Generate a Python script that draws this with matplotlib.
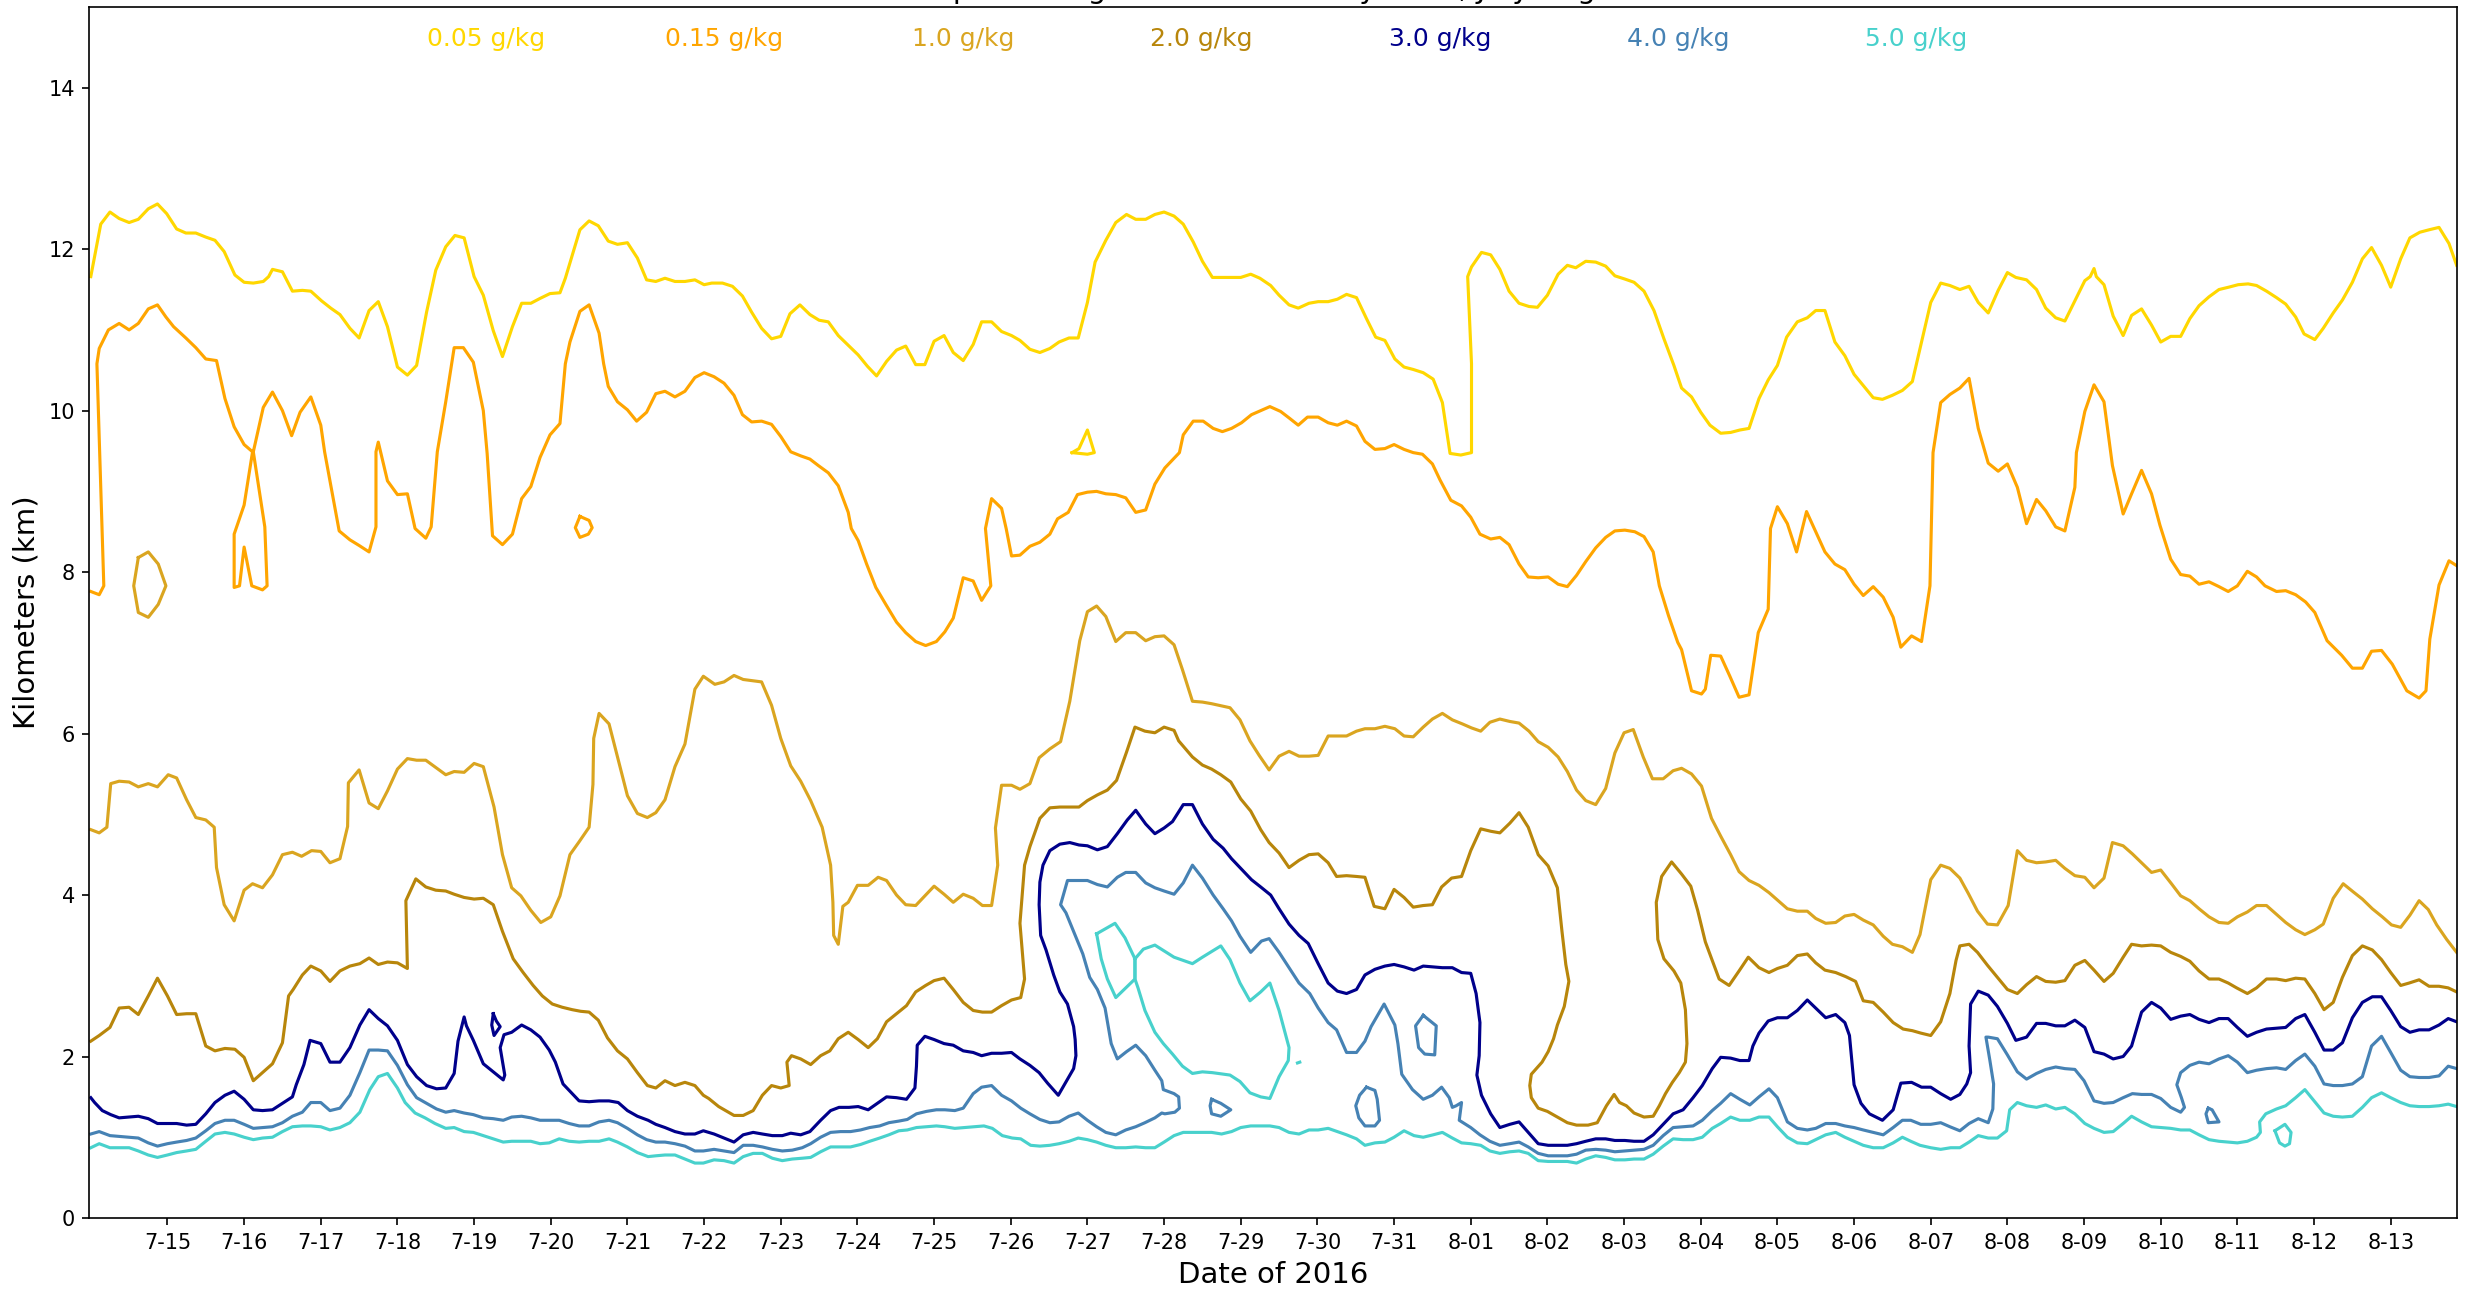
import matplotlib
matplotlib.use("Agg")
import matplotlib.pyplot as plt

# ---------------- data (day offset from 2016-07-14 00:00, height in km) ----------------
level_labels = ["0.05 g/kg", "0.15 g/kg", "1.0 g/kg", "2.0 g/kg", "3.0 g/kg", "4.0 g/kg", "5.0 g/kg"]
level_colors = ["gold", "orange", "goldenrod", "darkgoldenrod", "darkblue", "steelblue", "mediumturquoise"]

tick_days = list(range(1, 31))
tick_labels = ["7-%02d" % d for d in range(15, 32)] + ["8-%02d" % d for d in range(1, 14)]

title_text = "Water Vapor Mixing Ratio Contours by Lidar, July-August 2016"

c005_main = [
    (0.00, 11.66), (0.13, 12.31), (0.25, 12.46), (0.37, 12.38), (0.50, 12.33), (0.62, 12.37), (0.75, 12.50),
    (0.87, 12.56), (0.99, 12.44), (1.12, 12.25), (1.24, 12.20), (1.37, 12.20), (1.50, 12.15), (1.62, 12.11),
    (1.74, 11.97), (1.88, 11.68), (2.00, 11.59), (2.12, 11.58), (2.25, 11.60), (2.32, 11.66), (2.37, 11.75),
    (2.50, 11.72), (2.63, 11.48), (2.76, 11.49), (2.87, 11.48), (3.01, 11.36), (3.13, 11.27), (3.25, 11.19),
    (3.38, 11.02), (3.50, 10.90), (3.63, 11.24), (3.75, 11.35), (3.87, 11.04), (4.00, 10.54), (4.13, 10.44),
    (4.25, 10.56), (4.38, 11.22), (4.50, 11.74), (4.63, 12.03), (4.75, 12.17), (4.87, 12.14), (5.00, 11.66),
    (5.12, 11.43), (5.25, 10.99), (5.37, 10.67), (5.50, 11.04), (5.62, 11.33), (5.74, 11.33), (5.86, 11.39),
    (5.99, 11.45), (6.12, 11.46), (6.19, 11.64), (6.38, 12.24), (6.50, 12.35), (6.62, 12.29), (6.75, 12.10),
    (6.87, 12.06), (7.00, 12.08), (7.13, 11.89), (7.25, 11.62), (7.37, 11.60), (7.49, 11.64), (7.62, 11.60),
    (7.75, 11.60), (7.88, 11.62), (8.00, 11.56), (8.10, 11.58), (8.24, 11.58), (8.37, 11.54), (8.50, 11.42),
    (8.62, 11.22), (8.75, 11.02), (8.88, 10.89), (9.00, 10.92), (9.12, 11.20), (9.25, 11.31), (9.38, 11.19),
    (9.50, 11.12), (9.62, 11.10), (9.75, 10.93), (9.88, 10.81), (10.01, 10.69), (10.13, 10.55), (10.25, 10.43),
    (10.38, 10.61), (10.51, 10.75), (10.63, 10.80), (10.76, 10.57), (10.88, 10.57), (11.00, 10.86), (11.13, 10.93),
    (11.25, 10.72), (11.38, 10.62), (11.51, 10.82), (11.62, 11.10), (11.75, 11.10), (11.88, 10.98), (12.01, 10.93),
    (12.12, 10.87), (12.25, 10.76), (12.38, 10.72), (12.51, 10.77), (12.63, 10.85), (12.76, 10.90), (12.88, 10.90),
    (13.00, 11.34), (13.10, 11.84), (13.24, 12.11), (13.37, 12.33), (13.51, 12.43), (13.63, 12.37), (13.76, 12.37),
    (13.88, 12.43), (14.00, 12.46), (14.13, 12.41), (14.25, 12.31), (14.38, 12.09), (14.50, 11.85), (14.63, 11.65),
    (14.75, 11.65), (14.87, 11.65), (15.00, 11.65), (15.13, 11.69), (15.25, 11.64), (15.39, 11.55), (15.50, 11.43),
    (15.63, 11.31), (15.75, 11.27), (15.89, 11.33), (16.01, 11.35), (16.14, 11.35), (16.26, 11.38), (16.38, 11.44),
    (16.51, 11.40), (16.64, 11.14), (16.76, 10.91), (16.88, 10.87), (17.01, 10.64), (17.13, 10.54), (17.25, 10.51),
    (17.38, 10.47), (17.51, 10.39), (17.63, 10.10), (17.73, 9.47), (17.87, 9.45), (18.01, 9.48), (18.01, 10.58),
    (17.96, 11.66), (18.01, 11.78), (18.14, 11.96), (18.26, 11.93), (18.38, 11.75), (18.50, 11.48), (18.63, 11.33),
    (18.76, 11.29), (18.87, 11.28), (19.00, 11.43), (19.14, 11.69), (19.26, 11.80), (19.37, 11.77), (19.50, 11.85),
    (19.63, 11.84), (19.76, 11.79), (19.88, 11.67), (20.01, 11.63), (20.13, 11.59), (20.26, 11.48), (20.39, 11.24),
    (20.52, 10.89), (20.65, 10.56), (20.75, 10.28), (20.88, 10.17), (21.00, 9.98), (21.12, 9.82), (21.26, 9.72),
    (21.39, 9.73), (21.51, 9.76), (21.63, 9.78), (21.76, 10.15), (21.88, 10.38), (22.00, 10.56), (22.12, 10.91),
    (22.26, 11.10), (22.39, 11.15), (22.50, 11.24), (22.62, 11.24), (22.75, 10.85), (22.88, 10.68), (23.00, 10.45),
    (23.12, 10.31), (23.25, 10.16), (23.37, 10.14), (23.50, 10.19), (23.63, 10.25), (23.76, 10.36), (23.88, 10.85),
    (24.00, 11.34), (24.13, 11.58), (24.25, 11.55), (24.38, 11.50), (24.50, 11.54), (24.62, 11.34), (24.75, 11.21),
    (24.88, 11.49), (25.00, 11.71), (25.11, 11.65), (25.25, 11.62), (25.38, 11.50), (25.50, 11.27), (25.63, 11.15),
    (25.75, 11.11), (25.88, 11.36), (26.01, 11.61), (26.08, 11.66), (26.13, 11.76), (26.16, 11.66), (26.26, 11.56),
    (26.38, 11.17), (26.51, 10.93), (26.62, 11.18), (26.75, 11.26), (26.88, 11.06), (27.00, 10.85), (27.13, 10.92),
    (27.26, 10.92), (27.38, 11.14), (27.50, 11.30), (27.63, 11.41), (27.76, 11.50), (27.89, 11.53), (28.01, 11.56),
    (28.14, 11.57), (28.25, 11.55), (28.38, 11.48), (28.51, 11.40), (28.63, 11.32), (28.76, 11.16), (28.87, 10.95),
    (29.01, 10.88), (29.12, 11.02), (29.25, 11.21), (29.37, 11.37), (29.50, 11.59), (29.63, 11.88), (29.75, 12.02),
    (29.88, 11.80), (30.00, 11.53), (30.13, 11.88), (30.25, 12.14), (30.38, 12.21), (30.50, 12.24), (30.63, 12.27),
    (30.76, 12.07), (30.86, 11.80),
]
c005_island = [(12.80, 9.48), (12.89, 9.53), (13.00, 9.76), (13.09, 9.48), (13.00, 9.46), (12.80, 9.48)]

c015_main = [
    (0.00, 7.76), (0.11, 7.72), (0.17, 7.83), (0.08, 10.58), (0.11, 10.77), (0.23, 11.00), (0.37, 11.08),
    (0.50, 11.00), (0.62, 11.08), (0.75, 11.26), (0.87, 11.31), (0.98, 11.16), (1.08, 11.04), (1.24, 10.90),
    (1.37, 10.78), (1.50, 10.64), (1.64, 10.62), (1.75, 10.15), (1.87, 9.80), (2.00, 9.58), (2.11, 9.49),
    (2.00, 8.83), (1.87, 8.47), (1.87, 7.81), (1.94, 7.83), (2.00, 8.31), (2.10, 7.83), (2.24, 7.78),
    (2.30, 7.83), (2.27, 8.56), (2.12, 9.49), (2.25, 10.04), (2.37, 10.23), (2.50, 10.00), (2.62, 9.69),
    (2.73, 9.98), (2.87, 10.17), (3.00, 9.82), (3.05, 9.49), (3.12, 9.13), (3.24, 8.51), (3.38, 8.40),
    (3.50, 8.33), (3.63, 8.25), (3.72, 8.56), (3.72, 9.49), (3.75, 9.61), (3.87, 9.13), (4.00, 8.96),
    (4.13, 8.97), (4.23, 8.54), (4.37, 8.42), (4.44, 8.56), (4.52, 9.49), (4.63, 10.11), (4.74, 10.78),
    (4.86, 10.78), (4.99, 10.60), (5.12, 10.00), (5.17, 9.47), (5.24, 8.45), (5.37, 8.34), (5.50, 8.47),
    (5.62, 8.91), (5.74, 9.06), (5.86, 9.42), (5.99, 9.70), (6.12, 9.84), (6.19, 10.58), (6.25, 10.85),
    (6.38, 11.23), (6.50, 11.31), (6.63, 10.96), (6.69, 10.58), (6.75, 10.30), (6.87, 10.11), (7.00, 10.01),
    (7.12, 9.87), (7.25, 9.98), (7.37, 10.21), (7.49, 10.24), (7.62, 10.17), (7.75, 10.24), (7.88, 10.41),
    (8.00, 10.47), (8.13, 10.42), (8.26, 10.34), (8.39, 10.19), (8.50, 9.95), (8.62, 9.86), (8.75, 9.87),
    (8.88, 9.83), (9.00, 9.68), (9.13, 9.49), (9.26, 9.44), (9.38, 9.40), (9.49, 9.32), (9.62, 9.23),
    (9.75, 9.07), (9.88, 8.74), (9.92, 8.54), (10.01, 8.39), (10.12, 8.10), (10.24, 7.81), (10.37, 7.60),
    (10.51, 7.38), (10.63, 7.25), (10.76, 7.14), (10.89, 7.09), (11.03, 7.14), (11.14, 7.26), (11.25, 7.43),
    (11.38, 7.93), (11.51, 7.89), (11.62, 7.65), (11.74, 7.83), (11.67, 8.54), (11.75, 8.91), (11.88, 8.79),
    (11.94, 8.54), (12.01, 8.20), (12.12, 8.21), (12.25, 8.32), (12.38, 8.37), (12.51, 8.47), (12.61, 8.66),
    (12.75, 8.74), (12.87, 8.96), (13.00, 8.99), (13.12, 9.00), (13.24, 8.97), (13.37, 8.96), (13.50, 8.92),
    (13.63, 8.74), (13.76, 8.77), (13.88, 9.09), (14.01, 9.29), (14.20, 9.48), (14.25, 9.70), (14.38, 9.87),
    (14.51, 9.87), (14.64, 9.78), (14.76, 9.74), (14.88, 9.78), (15.01, 9.85), (15.14, 9.95), (15.26, 10.00),
    (15.38, 10.05), (15.52, 9.99), (15.63, 9.91), (15.75, 9.82), (15.87, 9.92), (16.01, 9.92), (16.14, 9.85),
    (16.26, 9.82), (16.38, 9.87), (16.51, 9.81), (16.62, 9.62), (16.75, 9.52), (16.88, 9.53), (17.00, 9.58),
    (17.13, 9.52), (17.25, 9.48), (17.37, 9.46), (17.50, 9.34), (17.60, 9.14), (17.74, 8.89), (17.88, 8.82),
    (18.00, 8.68), (18.12, 8.47), (18.26, 8.41), (18.38, 8.43), (18.50, 8.34), (18.63, 8.10), (18.75, 7.94),
    (18.88, 7.93), (19.01, 7.94), (19.14, 7.85), (19.26, 7.82), (19.38, 7.96), (19.50, 8.13), (19.63, 8.30),
    (19.76, 8.43), (19.88, 8.51), (20.01, 8.52), (20.14, 8.50), (20.26, 8.44), (20.38, 8.25), (20.46, 7.83),
    (20.58, 7.46), (20.70, 7.13), (20.75, 7.04), (20.88, 6.53), (21.01, 6.49), (21.06, 6.55), (21.13, 6.97),
    (21.26, 6.96), (21.38, 6.71), (21.50, 6.45), (21.63, 6.48), (21.75, 7.25), (21.88, 7.54), (21.91, 8.54),
    (22.00, 8.81), (22.13, 8.60), (22.25, 8.25), (22.33, 8.56), (22.38, 8.75), (22.50, 8.50), (22.62, 8.25),
    (22.75, 8.10), (22.88, 8.03), (23.00, 7.85), (23.12, 7.71), (23.25, 7.82), (23.38, 7.69), (23.51, 7.44),
    (23.61, 7.07), (23.75, 7.21), (23.88, 7.14), (23.99, 7.83), (24.03, 9.48), (24.13, 10.10), (24.25, 10.20),
    (24.38, 10.28), (24.50, 10.40), (24.62, 9.78), (24.75, 9.35), (24.88, 9.25), (25.00, 9.34), (25.13, 9.05),
    (25.25, 8.60), (25.38, 8.90), (25.50, 8.76), (25.63, 8.56), (25.75, 8.51), (25.88, 9.05), (25.90, 9.48),
    (26.01, 9.99), (26.13, 10.32), (26.26, 10.11), (26.37, 9.32), (26.51, 8.72), (26.62, 8.97), (26.75, 9.26),
    (26.88, 8.97), (26.99, 8.58), (27.13, 8.16), (27.26, 7.97), (27.38, 7.95), (27.50, 7.85), (27.63, 7.88),
    (27.76, 7.82), (27.88, 7.76), (28.00, 7.83), (28.13, 8.01), (28.25, 7.94), (28.36, 7.83), (28.51, 7.76),
    (28.63, 7.77), (28.76, 7.72), (28.89, 7.63), (29.01, 7.50), (29.17, 7.15), (29.36, 6.97), (29.50, 6.81),
    (29.63, 6.81), (29.75, 7.02), (29.88, 7.03), (30.02, 6.86), (30.21, 6.53), (30.37, 6.44), (30.46, 6.53),
    (30.51, 7.17), (30.63, 7.84), (30.76, 8.14), (30.86, 8.08),
]
c015_loop = [(6.38, 8.69), (6.50, 8.64), (6.54, 8.55), (6.49, 8.47), (6.38, 8.43), (6.32, 8.55), (6.38, 8.69)]

c10_main = [
    (0.00, 4.81), (0.11, 4.77), (0.21, 4.84), (0.26, 5.38), (0.37, 5.41), (0.50, 5.40), (0.62, 5.34),
    (0.75, 5.38), (0.87, 5.34), (1.01, 5.49), (1.12, 5.45), (1.25, 5.18), (1.37, 4.96), (1.50, 4.93),
    (1.61, 4.84), (1.64, 4.34), (1.74, 3.88), (1.87, 3.68), (2.00, 4.06), (2.11, 4.14), (2.24, 4.09),
    (2.37, 4.25), (2.50, 4.50), (2.63, 4.53), (2.75, 4.48), (2.88, 4.55), (3.00, 4.54), (3.12, 4.40),
    (3.25, 4.45), (3.35, 4.85), (3.36, 5.39), (3.50, 5.55), (3.63, 5.14), (3.75, 5.07), (3.87, 5.29),
    (4.00, 5.56), (4.13, 5.69), (4.25, 5.67), (4.37, 5.67), (4.50, 5.58), (4.63, 5.49), (4.74, 5.53),
    (4.87, 5.52), (5.00, 5.63), (5.12, 5.59), (5.26, 5.09), (5.37, 4.50), (5.49, 4.09), (5.61, 3.99),
    (5.74, 3.81), (5.87, 3.66), (6.00, 3.73), (6.12, 3.99), (6.25, 4.50), (6.37, 4.66), (6.50, 4.84),
    (6.55, 5.37), (6.56, 5.94), (6.63, 6.25), (6.76, 6.12), (6.87, 5.71), (7.00, 5.23), (7.13, 5.01),
    (7.26, 4.96), (7.37, 5.02), (7.49, 5.18), (7.62, 5.59), (7.75, 5.87), (7.88, 6.55), (7.99, 6.71),
    (8.14, 6.61), (8.26, 6.64), (8.39, 6.72), (8.51, 6.67), (8.75, 6.64), (8.88, 6.35), (9.00, 5.94),
    (9.13, 5.60), (9.26, 5.41), (9.39, 5.17), (9.54, 4.84), (9.65, 4.37), (9.68, 3.91), (9.69, 3.50),
    (9.75, 3.39), (9.81, 3.86), (9.88, 3.91), (10.00, 4.12), (10.14, 4.12), (10.27, 4.22), (10.38, 4.18),
    (10.51, 4.00), (10.63, 3.88), (10.76, 3.87), (10.88, 3.99), (11.00, 4.11), (11.13, 4.01), (11.25, 3.91),
    (11.38, 4.01), (11.51, 3.96), (11.63, 3.87), (11.75, 3.87), (11.83, 4.37), (11.80, 4.83), (11.88, 5.36),
    (12.01, 5.36), (12.12, 5.31), (12.25, 5.38), (12.37, 5.70), (12.51, 5.81), (12.65, 5.90), (12.77, 6.40),
    (12.90, 7.15), (13.00, 7.51), (13.12, 7.58), (13.24, 7.45), (13.37, 7.14), (13.50, 7.25), (13.63, 7.25),
    (13.76, 7.15), (13.88, 7.20), (14.00, 7.21), (14.13, 7.10), (14.24, 6.79), (14.37, 6.40), (14.50, 6.39),
    (14.62, 6.37), (14.86, 6.32), (14.99, 6.17), (15.12, 5.91), (15.24, 5.73), (15.37, 5.55), (15.50, 5.72),
    (15.63, 5.78), (15.76, 5.72), (15.89, 5.72), (16.01, 5.73), (16.14, 5.97), (16.38, 5.97), (16.51, 6.03),
    (16.62, 6.06), (16.75, 6.06), (16.88, 6.09), (17.01, 6.06), (17.13, 5.97), (17.25, 5.96), (17.38, 6.08),
    (17.50, 6.18), (17.63, 6.25), (17.76, 6.17), (17.89, 6.12), (18.01, 6.07), (18.13, 6.03), (18.25, 6.14),
    (18.38, 6.18), (18.51, 6.15), (18.63, 6.13), (18.76, 6.03), (18.88, 5.90), (19.01, 5.83), (19.14, 5.71),
    (19.26, 5.53), (19.38, 5.30), (19.50, 5.17), (19.63, 5.12), (19.76, 5.32), (19.88, 5.76), (20.00, 6.01),
    (20.12, 6.05), (20.25, 5.71), (20.37, 5.44), (20.51, 5.44), (20.64, 5.54), (20.75, 5.57), (20.88, 5.50),
    (21.01, 5.35), (21.14, 4.95), (21.26, 4.73), (21.39, 4.50), (21.50, 4.29), (21.63, 4.18), (21.76, 4.12),
    (21.89, 4.03), (22.01, 3.93), (22.13, 3.83), (22.26, 3.80), (22.39, 3.80), (22.50, 3.71), (22.63, 3.65),
    (22.76, 3.66), (22.88, 3.74), (23.00, 3.76), (23.12, 3.69), (23.25, 3.63), (23.38, 3.49), (23.50, 3.39),
    (23.63, 3.36), (23.76, 3.29), (23.86, 3.51), (24.00, 4.19), (24.13, 4.37), (24.25, 4.33), (24.38, 4.21),
    (24.49, 4.02), (24.61, 3.80), (24.74, 3.64), (24.87, 3.63), (25.01, 3.87), (25.13, 4.55), (25.25, 4.43),
    (25.38, 4.40), (25.50, 4.41), (25.63, 4.43), (25.75, 4.33), (25.88, 4.24), (26.01, 4.22), (26.13, 4.09),
    (26.26, 4.21), (26.37, 4.65), (26.51, 4.61), (26.63, 4.51), (26.75, 4.40), (26.88, 4.28), (27.00, 4.31),
    (27.14, 4.14), (27.26, 3.99), (27.38, 3.93), (27.50, 3.83), (27.63, 3.73), (27.76, 3.66), (27.88, 3.65),
    (28.00, 3.73), (28.13, 3.79), (28.25, 3.87), (28.38, 3.87), (28.51, 3.76), (28.63, 3.66), (28.76, 3.57),
    (28.88, 3.51), (29.01, 3.57), (29.12, 3.64), (29.25, 3.96), (29.38, 4.14), (29.51, 4.04), (29.63, 3.95),
    (29.76, 3.83), (29.89, 3.73), (30.01, 3.63), (30.13, 3.60), (30.25, 3.75), (30.37, 3.93), (30.49, 3.82),
    (30.60, 3.63), (30.73, 3.45), (30.86, 3.29),
]
c10_loop = [(0.62, 8.18), (0.75, 8.25), (0.88, 8.10), (0.98, 7.83), (0.88, 7.60), (0.75, 7.44), (0.62, 7.50),
            (0.56, 7.83), (0.62, 8.18)]

c20_main = [
    (0.00, 2.19), (0.11, 2.26), (0.25, 2.36), (0.37, 2.60), (0.50, 2.61), (0.62, 2.52), (0.75, 2.75),
    (0.87, 2.97), (1.00, 2.75), (1.12, 2.52), (1.25, 2.53), (1.37, 2.53), (1.50, 2.13), (1.62, 2.07),
    (1.75, 2.10), (1.88, 2.09), (2.00, 1.99), (2.12, 1.70), (2.24, 1.80), (2.37, 1.91), (2.50, 2.17),
    (2.58, 2.75), (2.64, 2.83), (2.76, 3.01), (2.87, 3.12), (3.00, 3.06), (3.12, 2.93), (3.25, 3.06),
    (3.38, 3.12), (3.51, 3.15), (3.63, 3.22), (3.75, 3.14), (3.87, 3.17), (4.00, 3.16), (4.13, 3.09),
    (4.11, 3.93), (4.24, 4.20), (4.37, 4.10), (4.50, 4.06), (4.63, 4.05), (4.74, 4.01), (4.87, 3.97),
    (5.00, 3.95), (5.12, 3.96), (5.25, 3.88), (5.37, 3.55), (5.51, 3.21), (5.64, 3.04), (5.77, 2.88),
    (5.89, 2.75), (6.02, 2.65), (6.15, 2.61), (6.28, 2.58), (6.39, 2.56), (6.50, 2.55), (6.62, 2.45),
    (6.74, 2.23), (6.87, 2.07), (7.00, 1.97), (7.13, 1.80), (7.26, 1.64), (7.37, 1.61), (7.49, 1.70),
    (7.62, 1.64), (7.75, 1.68), (7.88, 1.64), (7.99, 1.52), (8.06, 1.48), (8.19, 1.38), (8.39, 1.27),
    (8.51, 1.27), (8.64, 1.33), (8.76, 1.52), (8.88, 1.64), (9.00, 1.61), (9.11, 1.64), (9.08, 1.93),
    (9.14, 2.01), (9.26, 1.97), (9.39, 1.90), (9.52, 2.01), (9.64, 2.07), (9.75, 2.22), (9.88, 2.30),
    (10.01, 2.21), (10.14, 2.11), (10.26, 2.22), (10.38, 2.43), (10.51, 2.53), (10.64, 2.63), (10.76, 2.80),
    (10.89, 2.88), (11.00, 2.94), (11.13, 2.97), (11.25, 2.83), (11.38, 2.67), (11.51, 2.57), (11.63, 2.55),
    (11.75, 2.55), (11.88, 2.63), (12.01, 2.70), (12.13, 2.73), (12.18, 2.96), (12.12, 3.65), (12.18, 4.37),
    (12.25, 4.60), (12.38, 4.95), (12.51, 5.08), (12.64, 5.09), (12.89, 5.09), (13.00, 5.17), (13.13, 5.24),
    (13.26, 5.30), (13.38, 5.42), (13.51, 5.77), (13.62, 6.08), (13.75, 6.03), (13.88, 6.01), (14.00, 6.08),
    (14.13, 6.04), (14.19, 5.91), (14.37, 5.71), (14.50, 5.61), (14.62, 5.56), (14.74, 5.49), (14.87, 5.40),
    (15.00, 5.19), (15.13, 5.04), (15.26, 4.81), (15.37, 4.65), (15.50, 4.52), (15.63, 4.34), (15.76, 4.43),
    (15.89, 4.50), (16.01, 4.51), (16.14, 4.40), (16.25, 4.23), (16.38, 4.24), (16.51, 4.23), (16.62, 4.22),
    (16.74, 3.86), (16.88, 3.83), (17.00, 4.07), (17.13, 3.97), (17.25, 3.85), (17.38, 3.87), (17.50, 3.88),
    (17.62, 4.10), (17.75, 4.21), (17.88, 4.23), (18.00, 4.55), (18.13, 4.82), (18.26, 4.79), (18.38, 4.77),
    (18.51, 4.89), (18.63, 5.02), (18.75, 4.84), (18.88, 4.50), (19.01, 4.36), (19.13, 4.09), (19.19, 3.55),
    (19.24, 3.14), (19.28, 2.93), (19.22, 2.62), (19.13, 2.39), (19.08, 2.22), (19.01, 2.06), (18.93, 1.93),
    (18.79, 1.78), (18.77, 1.64), (18.79, 1.49), (18.88, 1.36), (19.00, 1.32), (19.13, 1.25), (19.26, 1.18),
    (19.38, 1.15), (19.53, 1.15), (19.65, 1.18), (19.77, 1.39), (19.87, 1.53), (19.94, 1.43), (20.03, 1.39),
    (20.13, 1.30), (20.26, 1.25), (20.38, 1.26), (20.46, 1.39), (20.54, 1.54), (20.63, 1.68), (20.72, 1.80),
    (20.80, 1.93), (20.82, 2.16), (20.80, 2.58), (20.74, 2.91), (20.65, 3.06), (20.52, 3.21), (20.44, 3.45),
    (20.42, 3.91), (20.49, 4.23), (20.62, 4.41), (20.75, 4.26), (20.87, 4.11), (20.96, 3.81), (21.06, 3.42),
    (21.24, 2.96), (21.37, 2.88), (21.50, 3.06), (21.62, 3.23), (21.76, 3.10), (21.89, 3.04), (22.00, 3.09),
    (22.13, 3.13), (22.26, 3.25), (22.39, 3.27), (22.50, 3.16), (22.62, 3.07), (22.76, 3.04), (22.89, 2.99),
    (23.02, 2.93), (23.12, 2.69), (23.25, 2.67), (23.38, 2.55), (23.51, 2.42), (23.64, 2.34), (23.76, 2.32),
    (23.87, 2.29), (24.00, 2.26), (24.13, 2.43), (24.25, 2.78), (24.33, 3.19), (24.38, 3.37), (24.50, 3.39),
    (24.61, 3.29), (24.74, 3.13), (24.87, 2.98), (25.00, 2.83), (25.13, 2.78), (25.25, 2.89), (25.38, 2.99),
    (25.50, 2.93), (25.63, 2.92), (25.75, 2.94), (25.88, 3.13), (26.01, 3.19), (26.13, 3.07), (26.26, 2.93),
    (26.38, 3.03), (26.51, 3.23), (26.62, 3.39), (26.75, 3.37), (26.88, 3.38), (27.00, 3.37), (27.13, 3.29),
    (27.26, 3.24), (27.38, 3.18), (27.50, 3.06), (27.63, 2.96), (27.76, 2.96), (27.88, 2.91), (27.99, 2.85),
    (28.13, 2.78), (28.25, 2.85), (28.38, 2.96), (28.51, 2.96), (28.63, 2.94), (28.76, 2.97), (28.88, 2.96),
    (29.01, 2.78), (29.13, 2.58), (29.25, 2.67), (29.37, 2.98), (29.50, 3.25), (29.63, 3.37), (29.76, 3.32),
    (29.88, 3.20), (30.00, 3.04), (30.13, 2.88), (30.24, 2.91), (30.37, 2.95), (30.50, 2.87), (30.63, 2.87),
    (30.75, 2.85), (30.86, 2.80),
]

c30_main = [
    (0.00, 1.49), (0.05, 1.43), (0.15, 1.33), (0.26, 1.28), (0.37, 1.24), (0.50, 1.25), (0.62, 1.26),
    (0.75, 1.23), (0.87, 1.17), (1.00, 1.17), (1.12, 1.17), (1.25, 1.15), (1.37, 1.16), (1.50, 1.29),
    (1.62, 1.43), (1.75, 1.52), (1.87, 1.57), (2.00, 1.47), (2.12, 1.34), (2.24, 1.33), (2.37, 1.34),
    (2.50, 1.42), (2.63, 1.50), (2.68, 1.65), (2.78, 1.90), (2.86, 2.20), (3.00, 2.16), (3.12, 1.93),
    (3.25, 1.93), (3.38, 2.11), (3.51, 2.39), (3.63, 2.58), (3.75, 2.47), (3.87, 2.38), (4.00, 2.20),
    (4.13, 1.90), (4.25, 1.75), (4.38, 1.64), (4.51, 1.60), (4.63, 1.61), (4.74, 1.79), (4.79, 2.19),
    (4.87, 2.49), (4.90, 2.38), (4.99, 2.20), (5.12, 1.91), (5.25, 1.81), (5.38, 1.71), (5.40, 1.77),
    (5.34, 2.11), (5.39, 2.27), (5.49, 2.30), (5.62, 2.39), (5.74, 2.33), (5.86, 2.24), (5.98, 2.08),
    (6.06, 1.93), (6.16, 1.66), (6.28, 1.54), (6.37, 1.45), (6.50, 1.44), (6.63, 1.45), (6.76, 1.45),
    (6.88, 1.43), (7.00, 1.33), (7.13, 1.26), (7.27, 1.21), (7.37, 1.16), (7.49, 1.12), (7.62, 1.07),
    (7.75, 1.04), (7.88, 1.04), (7.99, 1.08), (8.13, 1.04), (8.26, 0.99), (8.39, 0.94), (8.51, 1.03),
    (8.64, 1.06), (8.76, 1.04), (8.89, 1.02), (9.02, 1.02), (9.13, 1.05), (9.26, 1.03), (9.38, 1.07),
    (9.52, 1.21), (9.65, 1.33), (9.76, 1.37), (9.89, 1.37), (10.01, 1.38), (10.14, 1.34), (10.26, 1.42),
    (10.38, 1.50), (10.51, 1.49), (10.64, 1.47), (10.75, 1.61), (10.77, 1.88), (10.78, 2.14), (10.88, 2.25),
    (11.00, 2.21), (11.13, 2.16), (11.25, 2.14), (11.38, 2.07), (11.51, 2.05), (11.62, 2.01), (11.75, 2.04),
    (11.88, 2.04), (12.01, 2.05), (12.12, 1.97), (12.25, 1.89), (12.37, 1.80), (12.48, 1.67), (12.62, 1.52),
    (12.73, 1.70), (12.82, 1.85), (12.85, 2.01), (12.84, 2.21), (12.82, 2.37), (12.74, 2.65), (12.64, 2.80),
    (12.56, 3.01), (12.46, 3.32), (12.39, 3.50), (12.37, 3.88), (12.38, 4.16), (12.42, 4.37), (12.51, 4.55),
    (12.64, 4.63), (12.77, 4.65), (12.89, 4.62), (13.00, 4.61), (13.13, 4.56), (13.26, 4.60), (13.39, 4.76),
    (13.52, 4.93), (13.63, 5.05), (13.76, 4.88), (13.88, 4.76), (14.00, 4.83), (14.11, 4.91), (14.25, 5.12),
    (14.37, 5.12), (14.50, 4.88), (14.64, 4.69), (14.77, 4.58), (14.88, 4.45), (15.01, 4.32), (15.14, 4.19),
    (15.26, 4.10), (15.39, 4.00), (15.50, 3.83), (15.63, 3.64), (15.76, 3.50), (15.88, 3.40), (16.01, 3.15),
    (16.14, 2.91), (16.26, 2.81), (16.38, 2.78), (16.51, 2.83), (16.62, 3.01), (16.75, 3.08), (16.88, 3.12),
    (17.00, 3.14), (17.13, 3.11), (17.26, 3.07), (17.38, 3.12), (17.51, 3.11), (17.63, 3.10), (17.76, 3.10),
    (17.88, 3.04), (18.00, 3.03), (18.07, 2.78), (18.12, 2.42), (18.11, 2.01), (18.08, 1.77), (18.14, 1.52),
    (18.26, 1.29), (18.38, 1.12), (18.51, 1.16), (18.63, 1.19), (18.75, 1.06), (18.88, 0.92), (19.01, 0.90),
    (19.14, 0.90), (19.26, 0.90), (19.38, 0.92), (19.50, 0.95), (19.63, 0.98), (19.76, 0.98), (19.88, 0.96),
    (20.01, 0.96), (20.13, 0.95), (20.26, 0.95), (20.38, 1.03), (20.51, 1.16), (20.64, 1.29), (20.77, 1.34),
    (20.90, 1.49), (21.02, 1.64), (21.15, 1.85), (21.26, 1.99), (21.39, 1.98), (21.51, 1.95), (21.63, 1.95),
    (21.68, 2.13), (21.76, 2.29), (21.88, 2.44), (22.00, 2.48), (22.13, 2.48), (22.26, 2.57), (22.39, 2.70),
    (22.50, 2.60), (22.63, 2.48), (22.76, 2.52), (22.88, 2.42), (22.94, 2.26), (22.97, 1.96), (23.00, 1.65),
    (23.09, 1.42), (23.20, 1.29), (23.37, 1.21), (23.51, 1.34), (23.61, 1.67), (23.75, 1.68), (23.88, 1.62),
    (24.00, 1.62), (24.13, 1.54), (24.26, 1.47), (24.38, 1.53), (24.47, 1.66), (24.52, 1.80), (24.50, 2.13),
    (24.52, 2.65), (24.62, 2.81), (24.75, 2.76), (24.87, 2.62), (25.00, 2.41), (25.11, 2.20), (25.25, 2.24),
    (25.38, 2.41), (25.50, 2.41), (25.63, 2.38), (25.75, 2.38), (25.88, 2.45), (26.01, 2.36), (26.13, 2.06),
    (26.26, 2.03), (26.38, 1.97), (26.51, 2.00), (26.62, 2.13), (26.75, 2.55), (26.88, 2.67), (27.00, 2.60),
    (27.13, 2.46), (27.26, 2.50), (27.38, 2.52), (27.50, 2.46), (27.63, 2.42), (27.76, 2.47), (27.88, 2.47),
    (28.00, 2.36), (28.13, 2.25), (28.25, 2.30), (28.38, 2.34), (28.51, 2.35), (28.63, 2.36), (28.76, 2.47),
    (28.88, 2.52), (29.01, 2.30), (29.13, 2.08), (29.25, 2.08), (29.37, 2.17), (29.50, 2.48), (29.63, 2.67),
    (29.76, 2.74), (29.88, 2.74), (30.00, 2.57), (30.13, 2.37), (30.25, 2.30), (30.37, 2.33), (30.50, 2.33),
    (30.63, 2.39), (30.75, 2.47), (30.86, 2.43),
]
c30_loop = [(5.25, 2.53), (5.29, 2.44), (5.34, 2.37), (5.26, 2.26), (5.23, 2.39), (5.25, 2.53)]

c40_main = [
    (0.00, 1.04), (0.11, 1.07), (0.25, 1.02), (0.37, 1.01), (0.50, 1.00), (0.62, 0.99), (0.75, 0.93),
    (0.87, 0.89), (1.00, 0.92), (1.12, 0.94), (1.25, 0.96), (1.37, 0.99), (1.50, 1.08), (1.62, 1.17),
    (1.75, 1.21), (1.87, 1.21), (2.00, 1.16), (2.12, 1.11), (2.24, 1.12), (2.37, 1.13), (2.50, 1.18),
    (2.63, 1.26), (2.76, 1.31), (2.87, 1.43), (3.00, 1.43), (3.12, 1.33), (3.25, 1.36), (3.38, 1.52),
    (3.51, 1.80), (3.63, 2.08), (3.75, 2.08), (3.87, 2.07), (4.00, 1.89), (4.13, 1.65), (4.25, 1.49),
    (4.38, 1.42), (4.51, 1.35), (4.63, 1.31), (4.74, 1.33), (4.87, 1.30), (4.99, 1.28), (5.12, 1.24),
    (5.25, 1.23), (5.38, 1.21), (5.49, 1.25), (5.62, 1.26), (5.74, 1.24), (5.86, 1.21), (5.98, 1.21),
    (6.11, 1.21), (6.24, 1.17), (6.37, 1.14), (6.50, 1.14), (6.63, 1.19), (6.76, 1.21), (6.87, 1.18),
    (7.00, 1.11), (7.13, 1.03), (7.25, 0.97), (7.37, 0.94), (7.49, 0.94), (7.62, 0.92), (7.75, 0.89),
    (7.88, 0.83), (7.99, 0.83), (8.13, 0.85), (8.26, 0.83), (8.39, 0.81), (8.51, 0.90), (8.64, 0.90),
    (8.76, 0.88), (8.89, 0.85), (9.02, 0.83), (9.15, 0.84), (9.28, 0.87), (9.39, 0.92), (9.52, 1.00),
    (9.65, 1.06), (9.78, 1.07), (9.91, 1.07), (10.04, 1.09), (10.16, 1.12), (10.29, 1.14), (10.41, 1.18),
    (10.54, 1.20), (10.65, 1.22), (10.77, 1.29), (10.90, 1.32), (11.03, 1.34), (11.14, 1.34), (11.27, 1.33),
    (11.38, 1.36), (11.51, 1.54), (11.62, 1.62), (11.75, 1.64), (11.88, 1.52), (12.01, 1.45), (12.13, 1.36),
    (12.25, 1.29), (12.38, 1.22), (12.51, 1.18), (12.63, 1.19), (12.76, 1.26), (12.88, 1.30), (13.00, 1.21),
    (13.12, 1.13), (13.24, 1.06), (13.37, 1.03), (13.50, 1.09), (13.63, 1.13), (13.75, 1.18), (13.88, 1.24),
    (13.97, 1.30), (14.01, 1.29), (14.14, 1.31), (14.20, 1.36), (14.19, 1.50), (14.13, 1.54), (13.99, 1.59),
    (13.97, 1.70), (13.88, 1.83), (13.76, 2.01), (13.63, 2.14), (13.51, 2.06), (13.39, 1.97), (13.31, 2.16),
    (13.23, 2.60), (13.13, 2.83), (13.03, 2.98), (12.94, 3.27), (12.82, 3.55), (12.72, 3.78), (12.65, 3.88),
    (12.74, 4.18), (12.87, 4.18), (13.00, 4.18), (13.13, 4.13), (13.26, 4.10), (13.39, 4.22), (13.50, 4.28),
    (13.63, 4.28), (13.76, 4.15), (13.88, 4.09), (14.00, 4.05), (14.13, 4.01), (14.25, 4.15), (14.37, 4.37),
    (14.50, 4.21), (14.64, 4.00), (14.77, 3.83), (14.88, 3.68), (14.99, 3.49), (15.13, 3.29), (15.27, 3.43),
    (15.37, 3.46), (15.50, 3.29), (15.63, 3.10), (15.76, 2.91), (15.90, 2.78), (16.01, 2.60), (16.14, 2.42),
    (16.25, 2.33), (16.38, 2.05), (16.51, 2.05), (16.62, 2.19), (16.70, 2.37), (16.87, 2.65), (17.01, 2.39),
    (17.05, 2.16), (17.10, 1.78), (17.24, 1.59), (17.38, 1.47), (17.50, 1.52), (17.62, 1.62), (17.72, 1.49),
    (17.76, 1.37), (17.81, 1.39), (17.88, 1.43), (17.85, 1.21), (18.00, 1.12), (18.12, 1.03), (18.25, 0.95),
    (18.38, 0.90), (18.51, 0.92), (18.63, 0.94), (18.75, 0.88), (18.88, 0.80), (19.01, 0.77), (19.14, 0.77),
    (19.26, 0.77), (19.38, 0.79), (19.50, 0.84), (19.63, 0.85), (19.76, 0.84), (19.88, 0.82), (20.01, 0.83),
    (20.13, 0.84), (20.26, 0.85), (20.38, 0.90), (20.51, 1.02), (20.64, 1.12), (20.77, 1.13), (20.90, 1.14),
    (21.02, 1.21), (21.15, 1.33), (21.26, 1.42), (21.39, 1.54), (21.51, 1.47), (21.64, 1.40), (21.76, 1.50),
    (21.89, 1.60), (22.00, 1.49), (22.13, 1.19), (22.26, 1.11), (22.39, 1.09), (22.50, 1.11), (22.63, 1.17),
    (22.76, 1.17), (22.88, 1.14), (23.00, 1.12), (23.12, 1.09), (23.25, 1.06), (23.38, 1.03), (23.51, 1.12),
    (23.63, 1.21), (23.74, 1.21), (23.87, 1.16), (24.00, 1.16), (24.13, 1.18), (24.25, 1.13), (24.38, 1.08),
    (24.50, 1.17), (24.62, 1.23), (24.75, 1.18), (24.81, 1.35), (24.82, 1.66), (24.77, 1.96), (24.72, 2.24),
    (24.75, 2.24), (24.87, 2.22), (25.00, 2.02), (25.13, 1.81), (25.25, 1.72), (25.38, 1.79), (25.50, 1.84),
    (25.63, 1.87), (25.75, 1.85), (25.88, 1.84), (26.00, 1.70), (26.13, 1.45), (26.26, 1.42), (26.38, 1.43),
    (26.51, 1.49), (26.63, 1.54), (26.75, 1.53), (26.88, 1.53), (27.00, 1.48), (27.13, 1.37), (27.26, 1.31),
    (27.31, 1.37), (27.27, 1.49), (27.21, 1.65), (27.26, 1.80), (27.38, 1.89), (27.50, 1.93), (27.63, 1.91),
    (27.76, 1.97), (27.88, 2.01), (28.00, 1.93), (28.13, 1.80), (28.25, 1.83), (28.38, 1.85), (28.51, 1.86),
    (28.63, 1.84), (28.76, 1.95), (28.88, 2.03), (29.01, 1.88), (29.13, 1.66), (29.25, 1.64), (29.37, 1.64),
    (29.50, 1.66), (29.63, 1.75), (29.75, 2.13), (29.88, 2.25), (30.00, 2.05), (30.13, 1.83), (30.25, 1.75),
    (30.37, 1.74), (30.50, 1.74), (30.63, 1.76), (30.75, 1.88), (30.86, 1.85),
]
c40_loop_a = [(14.62, 1.47), (14.74, 1.42), (14.87, 1.34), (14.74, 1.26), (14.62, 1.29), (14.60, 1.39), (14.62, 1.47)]
c40_loop_b = [(17.38, 2.51), (17.55, 2.38), (17.53, 2.02), (17.40, 2.03), (17.32, 2.11), (17.28, 2.38), (17.38, 2.51)]
c40_loop_c = [(16.64, 1.62), (16.75, 1.58), (16.78, 1.47), (16.81, 1.21), (16.75, 1.14), (16.62, 1.14),
              (16.54, 1.24), (16.50, 1.39), (16.55, 1.52), (16.64, 1.62)]
c40_loop_d = [(27.62, 1.36), (27.67, 1.34), (27.76, 1.19), (27.62, 1.18), (27.59, 1.29), (27.62, 1.36)]

c50_main = [
    (0.00, 0.87), (0.11, 0.92), (0.25, 0.87), (0.37, 0.87), (0.50, 0.87), (0.62, 0.83), (0.75, 0.78),
    (0.87, 0.75), (1.00, 0.78), (1.12, 0.81), (1.25, 0.83), (1.37, 0.85), (1.50, 0.95), (1.62, 1.04),
    (1.75, 1.06), (1.87, 1.04), (2.00, 1.00), (2.12, 0.97), (2.24, 0.99), (2.37, 1.00), (2.50, 1.07),
    (2.63, 1.13), (2.76, 1.14), (2.87, 1.14), (3.00, 1.13), (3.12, 1.09), (3.25, 1.12), (3.38, 1.18),
    (3.51, 1.31), (3.64, 1.59), (3.75, 1.75), (3.87, 1.79), (4.00, 1.61), (4.10, 1.43), (4.23, 1.30),
    (4.36, 1.24), (4.49, 1.17), (4.63, 1.11), (4.74, 1.12), (4.87, 1.07), (4.99, 1.06), (5.12, 1.02),
    (5.25, 0.98), (5.38, 0.94), (5.49, 0.95), (5.62, 0.95), (5.74, 0.95), (5.86, 0.92), (5.98, 0.93),
    (6.11, 0.98), (6.24, 0.95), (6.37, 0.94), (6.50, 0.95), (6.63, 0.95), (6.76, 0.98), (6.87, 0.94),
    (7.00, 0.88), (7.13, 0.81), (7.27, 0.76), (7.37, 0.77), (7.49, 0.78), (7.62, 0.78), (7.75, 0.73),
    (7.88, 0.68), (7.99, 0.68), (8.13, 0.72), (8.26, 0.71), (8.39, 0.68), (8.51, 0.76), (8.64, 0.80),
    (8.76, 0.80), (8.89, 0.74), (9.02, 0.71), (9.15, 0.73), (9.28, 0.74), (9.39, 0.75), (9.52, 0.82),
    (9.65, 0.88), (9.78, 0.88), (9.91, 0.88), (10.04, 0.91), (10.16, 0.95), (10.29, 0.99), (10.41, 1.03),
    (10.54, 1.08), (10.65, 1.09), (10.77, 1.12), (10.90, 1.13), (11.03, 1.14), (11.14, 1.13), (11.27, 1.11),
    (11.40, 1.12), (11.53, 1.13), (11.65, 1.14), (11.76, 1.11), (11.89, 1.02), (12.02, 0.99), (12.13, 0.98),
    (12.26, 0.90), (12.38, 0.89), (12.51, 0.90), (12.63, 0.92), (12.76, 0.95), (12.88, 0.99), (13.00, 0.97),
    (13.12, 0.94), (13.24, 0.90), (13.37, 0.87), (13.50, 0.87), (13.63, 0.88), (13.76, 0.87), (13.88, 0.87),
    (14.00, 0.94), (14.13, 1.02), (14.25, 1.06), (14.37, 1.06), (14.50, 1.06), (14.62, 1.06), (14.75, 1.04),
    (14.88, 1.07), (15.00, 1.12), (15.13, 1.14), (15.26, 1.14), (15.38, 1.14), (15.50, 1.12), (15.63, 1.06),
    (15.76, 1.04), (15.89, 1.09), (16.01, 1.09), (16.14, 1.11), (16.26, 1.07), (16.38, 1.03), (16.51, 0.98),
    (16.62, 0.90), (16.75, 0.93), (16.88, 0.94), (17.00, 1.00), (17.13, 1.08), (17.26, 1.02), (17.38, 1.00),
    (17.51, 1.03), (17.63, 1.06), (17.76, 0.99), (17.88, 0.93), (18.00, 0.92), (18.13, 0.90), (18.25, 0.83),
    (18.38, 0.80), (18.51, 0.82), (18.63, 0.83), (18.75, 0.80), (18.88, 0.71), (19.01, 0.70), (19.14, 0.70),
    (19.26, 0.70), (19.38, 0.68), (19.50, 0.73), (19.63, 0.77), (19.76, 0.75), (19.88, 0.72), (20.01, 0.72),
    (20.13, 0.73), (20.26, 0.73), (20.38, 0.79), (20.51, 0.89), (20.64, 0.98), (20.77, 0.97), (20.90, 0.97),
    (21.02, 1.00), (21.15, 1.11), (21.26, 1.17), (21.39, 1.25), (21.51, 1.21), (21.64, 1.21), (21.76, 1.25),
    (21.89, 1.25), (22.00, 1.13), (22.13, 1.00), (22.26, 0.93), (22.39, 0.92), (22.50, 0.97), (22.63, 1.03),
    (22.76, 1.06), (22.88, 1.00), (23.00, 0.95), (23.12, 0.90), (23.25, 0.87), (23.38, 0.87), (23.51, 0.93),
    (23.63, 1.00), (23.74, 0.95), (23.86, 0.90), (24.00, 0.87), (24.13, 0.85), (24.26, 0.87), (24.38, 0.87),
    (24.50, 0.94), (24.62, 1.02), (24.75, 0.99), (24.87, 0.99), (24.99, 1.08), (25.03, 1.34), (25.13, 1.43),
    (25.25, 1.39), (25.38, 1.37), (25.50, 1.40), (25.63, 1.35), (25.75, 1.37), (25.88, 1.29), (26.01, 1.17),
    (26.13, 1.11), (26.26, 1.06), (26.38, 1.07), (26.51, 1.17), (26.62, 1.26), (26.75, 1.19), (26.88, 1.13),
    (27.00, 1.12), (27.13, 1.11), (27.26, 1.09), (27.38, 1.09), (27.50, 1.03), (27.63, 0.97), (27.76, 0.95),
    (27.88, 0.94), (28.00, 0.93), (28.13, 0.95), (28.25, 1.00), (28.30, 1.06), (28.29, 1.19), (28.37, 1.29),
    (28.51, 1.35), (28.63, 1.39), (28.76, 1.49), (28.88, 1.59), (29.01, 1.44), (29.13, 1.30), (29.25, 1.26),
    (29.37, 1.25), (29.50, 1.26), (29.63, 1.37), (29.75, 1.49), (29.88, 1.55), (30.00, 1.49), (30.13, 1.43),
    (30.25, 1.39), (30.37, 1.38), (30.50, 1.38), (30.63, 1.39), (30.75, 1.41), (30.86, 1.38),
]
c50_loop_a = [(13.12, 3.52), (13.36, 3.65), (13.49, 3.47), (13.62, 3.21), (13.62, 2.96), (13.37, 2.73),
              (13.26, 2.96), (13.18, 3.21), (13.12, 3.52)]
c50_loop_b = [(13.62, 3.21), (13.73, 3.33), (13.88, 3.38), (14.13, 3.23), (14.37, 3.15), (14.50, 3.23),
              (14.74, 3.37), (14.86, 3.20), (14.99, 2.91), (15.12, 2.69), (15.26, 2.80), (15.38, 2.91),
              (15.50, 2.57), (15.63, 2.11), (15.62, 1.95), (15.50, 1.75), (15.38, 1.48), (15.26, 1.50),
              (15.12, 1.55), (14.99, 1.69), (14.86, 1.77), (14.63, 1.80), (14.50, 1.81), (14.37, 1.79),
              (14.24, 1.88), (14.11, 2.03), (13.99, 2.16), (13.88, 2.30), (13.75, 2.57), (13.66, 2.85),
              (13.62, 2.96), (13.62, 3.21)]
c50_loop_c = [(28.49, 1.08), (28.62, 1.16), (28.70, 1.06), (28.68, 0.92), (28.62, 0.89), (28.55, 0.93), (28.49, 1.08)]
c50_dot = [(15.74, 1.92), (15.77, 1.93)]

contours = [
    [c005_main, c005_island],
    [c015_main, c015_loop],
    [c10_main, c10_loop],
    [c20_main],
    [c30_main, c30_loop],
    [c40_main, c40_loop_a, c40_loop_b, c40_loop_c, c40_loop_d],
    [c50_main, c50_loop_a, c50_loop_b, c50_loop_c, c50_dot],
]

# ---------------- figure ----------------
fig = plt.figure(figsize=(2465 / 150, 1292 / 150), dpi=150)
ax = fig.add_axes([0.0363, 0.0573, 0.9605, 0.9373])

for segs, col in zip(contours, level_colors):
    for seg in segs:
        xs = [p[0] for p in seg]
        ys = [p[1] for p in seg]
        ax.plot(xs, ys, color=col, lw=1.5)

for i, (lab, col) in enumerate(zip(level_labels, level_colors)):
    ax.text(0.1675 + i * 0.1007, 0.9736, lab, color=col, fontsize=12,
            ha="center", va="center", transform=ax.transAxes)

ax.set_xlim(-0.017, 30.866)
ax.set_ylim(0, 15)
ax.set_xticks(tick_days)
ax.set_xticklabels(tick_labels, fontsize=10)
ax.set_yticks(range(0, 15, 2))
ax.tick_params(axis="y", labelsize=10)
ax.set_xlabel("Date of 2016", fontsize=14)
ax.set_ylabel("Kilometers (km)", fontsize=14)
# the title sits above the top edge of the picture, as in the reference (only its descenders show)
ax.set_title(title_text, fontsize=14, pad=4.5)

fig.savefig("out.png", dpi=150)
